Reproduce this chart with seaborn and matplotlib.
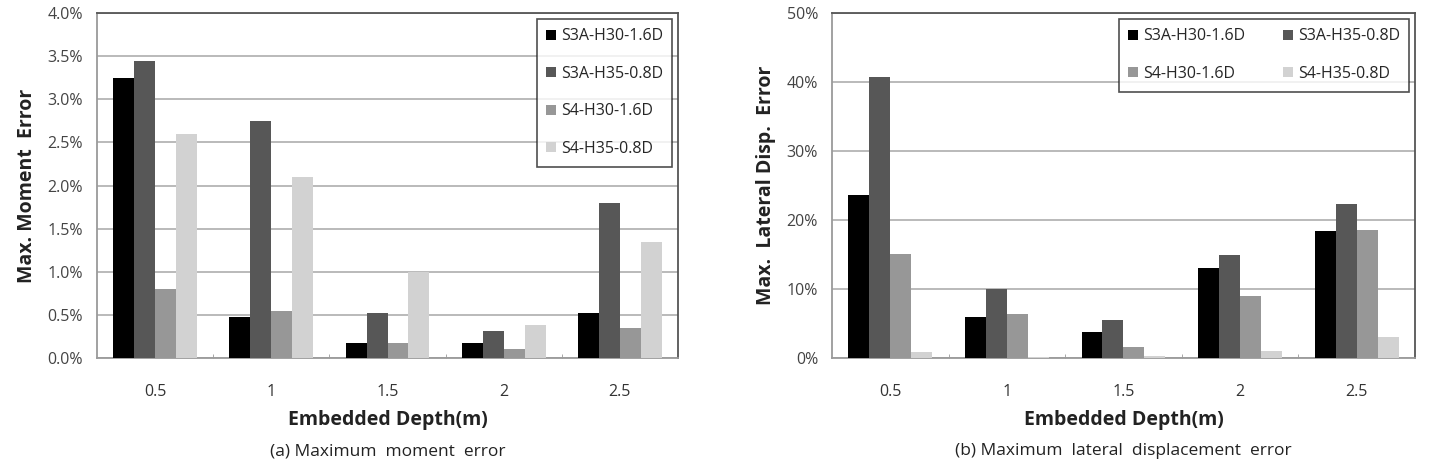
import pandas as pd
import matplotlib
matplotlib.use('Agg')
import matplotlib.pyplot as plt
import seaborn as sns
from matplotlib.ticker import FuncFormatter

# Values (percent)
depths = ['0.5', '1', '1.5', '2', '2.5']
series = ['S3A-H30-1.6D', 'S3A-H35-0.8D', 'S4-H30-1.6D', 'S4-H35-0.8D']
colors = ['#000000', '#575757', '#979797', '#d2d2d2']

moment_s3a_h30 = [3.25, 0.47, 0.17, 0.17, 0.52]
moment_s3a_h35 = [3.45, 2.75, 0.52, 0.31, 1.80]
moment_s4_h30 = [0.80, 0.55, 0.17, 0.10, 0.35]
moment_s4_h35 = [2.60, 2.10, 1.00, 0.38, 1.35]

disp_s3a_h30 = [23.6, 5.9, 3.8, 13.0, 18.4]
disp_s3a_h35 = [40.8, 10.0, 5.5, 14.9, 22.4]
disp_s4_h30 = [15.1, 6.4, 1.6, 9.0, 18.6]
disp_s4_h35 = [0.8, 0.1, 0.3, 1.0, 3.1]


def to_long(cols):
    rows = []
    for name, vals in zip(series, cols):
        for d, v in zip(depths, vals):
            rows.append({'depth': d, 'series': name, 'value': v})
    return pd.DataFrame(rows)


moment_df = to_long([moment_s3a_h30, moment_s3a_h35, moment_s4_h30, moment_s4_h35])
disp_df = to_long([disp_s3a_h30, disp_s3a_h35, disp_s4_h30, disp_s4_h35])

sns.set_style('white')
plt.rcParams['font.family'] = ['Open Sans', 'DejaVu Sans']

fig = plt.figure(figsize=(14.31, 4.61), dpi=100)
ax1 = fig.add_axes([0.0678, 0.2234, 0.406, 0.748])
ax2 = fig.add_axes([0.5814, 0.2234, 0.4074, 0.748])


def draw(ax, df, ymax, step, fmt, ylabel, ncol, caption, order):
    sns.barplot(data=df, x='depth', y='value', hue='series', palette=colors,
                width=0.72, saturation=1, ax=ax, linewidth=0, zorder=3)
    ax.set_ylim(0, ymax)
    ax.set_xlim(-0.5, len(depths) - 0.5)
    ax.set_yticks([i * step for i in range(int(round(ymax / step)) + 1)])
    ax.yaxis.set_major_formatter(FuncFormatter(fmt))
    ax.grid(axis='y', color='#b4b4b4', linewidth=1.3, zorder=0)
    ax.set_axisbelow(True)
    ax.set_xticks(range(len(depths)))
    ax.set_xticks([i + 0.5 for i in range(len(depths) - 1)], minor=True)
    ax.tick_params(axis='x', which='major', length=0, pad=19, labelsize=11.5, labelcolor='#333333')
    ax.tick_params(axis='x', which='minor', direction='in', length=3, color='#999999', bottom=True)
    ax.tick_params(axis='y', length=0, pad=10, labelsize=11.5, labelcolor='#444444')
    for side in ['left', 'bottom']:
        ax.spines[side].set_color('#9a9a9a')
        ax.spines[side].set_linewidth(1.3)
    for side in ['top', 'right']:
        ax.spines[side].set_color('#555555')
        ax.spines[side].set_linewidth(1.3)
    ax.set_xlabel('Embedded Depth(m)', fontsize=14, fontweight='bold', color='#222222', labelpad=7)
    ax.set_ylabel(ylabel, fontsize=14, fontweight='bold', color='#222222', labelpad=8)
    handles, labels = ax.get_legend_handles_labels()
    handles = [handles[i] for i in order]
    labels = [labels[i] for i in order]
    leg = ax.legend(handles, labels, loc='upper right', ncol=ncol, frameon=True, fancybox=False,
                    edgecolor='#222222', fontsize=11.5, handlelength=0.6, handleheight=0.6,
                    handletextpad=0.3, borderaxespad=0.35, labelspacing=1.35,
                    columnspacing=2.4, borderpad=0.6)
    leg.get_frame().set_linewidth(1.2)
    pos = ax.get_position()
    fig.text(pos.x0 + pos.width / 2, 0.004, caption, ha='center', va='bottom',
             fontsize=12.5, color='#222222')


draw(ax1, moment_df, 4.0, 0.5, lambda v, p: f'{v:.1f}%', 'Max. Moment  Error', 1,
     '(a) Maximum  moment  error', [0, 1, 2, 3])
draw(ax2, disp_df, 50, 10, lambda v, p: f'{v:.0f}%', 'Max.  Lateral Disp.  Error', 2,
     '(b) Maximum  lateral  displacement  error', [0, 2, 1, 3])

fig.savefig('out.png', dpi=100)
